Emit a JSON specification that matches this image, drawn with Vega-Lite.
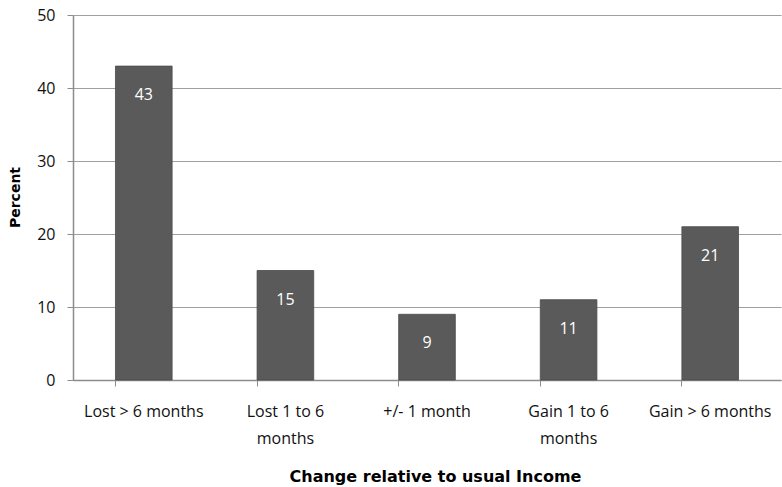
{
  "$schema": "https://vega.github.io/schema/vega-lite/v6.json",
  "width": 708,
  "height": 365,
  "autosize": {"type": "none"},
  "padding": {"left": 73, "top": 15, "right": 1, "bottom": 107},
  "background": "white",
  "config": {
    "font": "Open Sans",
    "view": {"stroke": null}
  },
  "data": {
    "values": [
      {"change": "Lost > 6 months", "percent": 43},
      {"change": "Lost 1 to 6 months", "percent": 15},
      {"change": "+/- 1 month", "percent": 9},
      {"change": "Gain 1 to 6 months", "percent": 11},
      {"change": "Gain > 6 months", "percent": 21}
    ]
  },
  "encoding": {
    "x": {
      "field": "change",
      "type": "nominal",
      "sort": null,
      "scale": {"paddingInner": 0.6, "paddingOuter": 0.3},
      "axis": {
        "title": "Change relative to usual Income",
        "titleFont": "DejaVu Sans",
        "titleFontSize": 16,
        "titleFontWeight": "bold",
        "titleColor": "#000000",
        "titleX": 362,
        "titlePadding": 22,
        "labelAngle": 0,
        "labelFontSize": 16,
        "labelColor": "#111111",
        "labelPadding": 17,
        "labelLineHeight": 27,
        "labelExpr": "datum.value == 'Lost 1 to 6 months' ? ['Lost 1 to 6', 'months'] : datum.value == 'Gain 1 to 6 months' ? ['Gain 1 to 6', 'months'] : datum.value",
        "bandPosition": 0,
        "ticks": true,
        "tickSize": 6,
        "tickColor": "#8c8c8c",
        "domainColor": "#8c8c8c",
        "domainWidth": 1.5,
        "grid": false
      }
    },
    "y": {
      "field": "percent",
      "type": "quantitative",
      "scale": {"domain": [0, 50]},
      "axis": {
        "title": "Percent",
        "titleFont": "DejaVu Sans",
        "titleFontSize": 14,
        "titleFontWeight": "bold",
        "titleColor": "#000000",
        "titleX": -58,
        "titleY": 182,
        "titleBaseline": "middle",
        "titleAlign": "center",
        "titleAngle": -90,
        "values": [0, 10, 20, 30, 40, 50],
        "labelFontSize": 16,
        "labelColor": "#111111",
        "labelPadding": 12,
        "tickSize": 6,
        "tickColor": "#8c8c8c",
        "domainColor": "#8c8c8c",
        "domainWidth": 1.5,
        "grid": true,
        "gridColor": "#a0a0a0",
        "gridWidth": 1.2
      }
    }
  },
  "layer": [
    {
      "mark": {"type": "bar", "color": "#5a5a5a", "stroke": "#4a4a4a", "strokeWidth": 0.8}
    },
    {
      "mark": {"type": "text", "color": "white", "fontSize": 16, "baseline": "middle", "dy": 29},
      "encoding": {
        "text": {"field": "percent", "type": "quantitative", "format": "d"}
      }
    }
  ]
}
